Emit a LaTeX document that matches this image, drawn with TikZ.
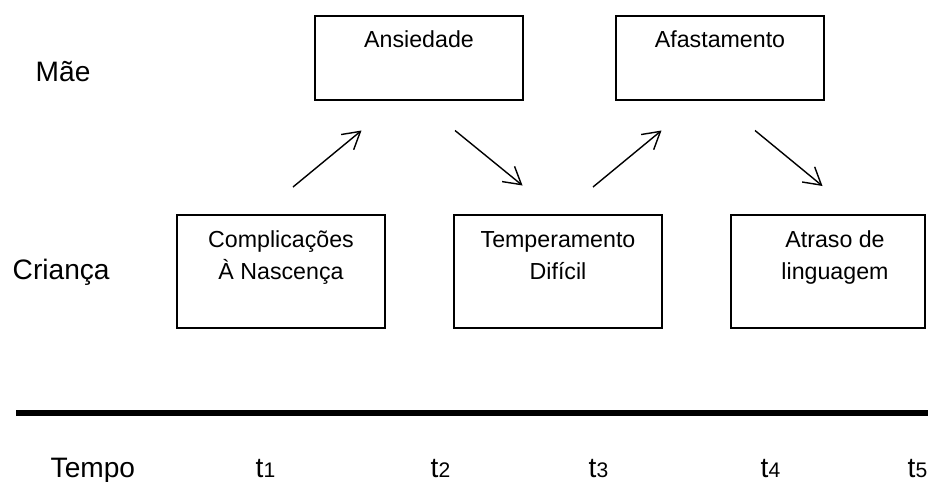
\documentclass[tikz,border=0pt]{standalone}
\usepackage{fontspec}
\setmainfont{Liberation Sans}
\usetikzlibrary{arrows.meta}
\usetikzlibrary{positioning}
\newcommand{\tidx}[1]{t{\fontsize{15}{18}\selectfont #1}}

\begin{document}
\begin{tikzpicture}[x=0.025cm,y=-0.025cm,line width=1pt,
  >={Straight Barb[length=12pt,width=14pt]}]

  \tikzstyle{box}=[rectangle,draw,line width=1.2pt,inner sep=0pt,minimum width=5.2cm];
  \tikzstyle{short}=[box,minimum height=2.1cm];
  \tikzstyle{tall}=[box,minimum height=2.825cm];
  \tikzstyle{boxtext}=[inner sep=0pt,align=center,anchor=base,font=\fontsize{16.5}{22.7}\selectfont];
  \tikzstyle{side}=[inner sep=0pt,anchor=base west,font=\fontsize{20}{24}\selectfont];

  \useasboundingbox (0,0) rectangle (928,481);

  % mae
  \node[short] (ansi) at (419,58) {};
  \node[short] (afast) at (720,58) {};
  \node[boxtext] (ansitxt) at (419,47) {Ansiedade};
  \node[boxtext] (afasttxt) at (720,47) {Afastamento};

  % crianca
  \node[tall] (compl) at (281,271.5) {};
  \node[tall] (temper) at (558,271.5) {};
  \node[tall,minimum width=4.85cm] (atraso) at (828,271.5) {};
  \node[boxtext] (compltxt) at (281,279) {Complicações\\À Nascença};
  \node[boxtext] (tempertxt) at (558,279) {Temperamento\\Difícil};
  \node[boxtext] (atrasotxt) at (835,279) {Atraso de\\linguagem};

  % rotulos
  \node[side] (mae) at (35,81.5) {Mãe};
  \node[side] (crianca) at (12,279) {Criança};
  \node[side] (tempo) at (50,477) {Tempo};
  \node[side] (t1) at (255,477) {\tidx{1}};
  \node[side] (t2) at (430,477) {\tidx{2}};
  \node[side] (t3) at (588,477) {\tidx{3}};
  \node[side] (t4) at (760,477) {\tidx{4}};
  \node[side] (t5) at (907,477) {\tidx{5}};

  % setas
  \coordinate (s1) at (293,187);
  \coordinate (e1) at (361.5,130.5);
  \coordinate (s2) at (455,130.5);
  \coordinate (e2) at (522.5,185.5);
  \coordinate (s3) at (593,187);
  \coordinate (e3) at (661.5,130.5);
  \coordinate (s4) at (755,130.5);
  \coordinate (e4) at (822.5,186);

  \path[->]
    (s1) edge (e1)
    (s2) edge (e2)
    (s3) edge (e3)
    (s4) edge (e4)
  ;

  % eixo do tempo
  \coordinate (eixoa) at (16,413);
  \coordinate (eixob) at (928,413);
  \draw[line width=4.3pt] (eixoa) -- (eixob);

\end{tikzpicture}
\end{document}
